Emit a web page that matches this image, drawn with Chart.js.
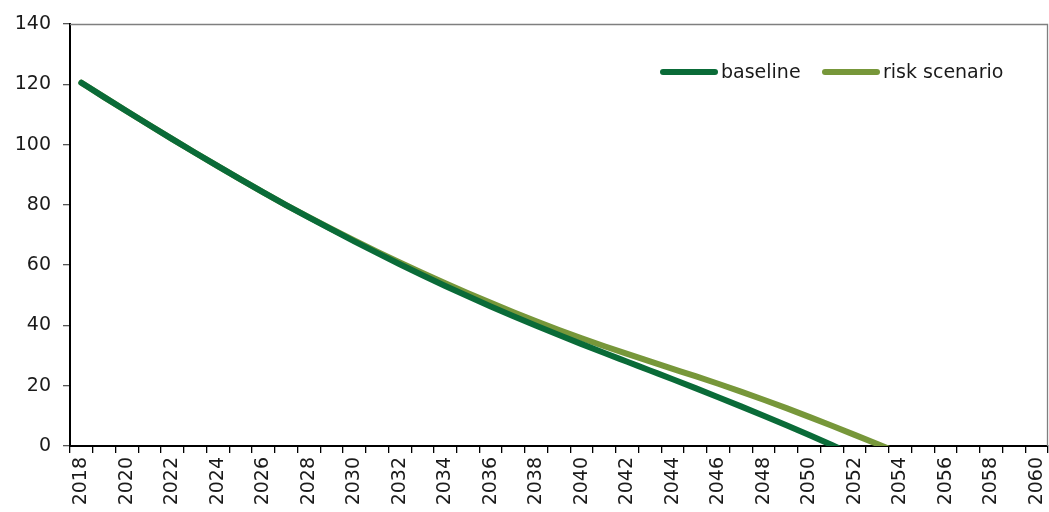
<!DOCTYPE html>
<html>
<head>
<meta charset="utf-8">
<script src="https://cdn.jsdelivr.net/npm/chart.js@4.4.1/dist/chart.umd.min.js"></script>
<style>
html,body{margin:0;padding:0;background:#fff;}
#wrap{width:1049px;height:512px;}
</style>
</head>
<body>
<div id="wrap"><canvas id="c" width="1049" height="512"></canvas></div>
<script>
const years = [];
for (let y = 2018; y <= 2060; y++) years.push(String(y));

const seriesNames = ['baseline', 'risk scenario'];
const seriesColors = ['#0a6b38', '#77973a'];

const baseline = [120.5,115.75,111.05,106.4,101.8,97.3,92.85,88.45,84.15,79.95,
  75.85,71.85,67.9,64.05,60.3,56.65,53.1,49.65,46.3,43.05,
  39.9,36.8,33.8,30.85,27.95,25.05,22.15,19.2,16.2,13.15,
  10.05,6.9,3.65,0.3,-3.15];
const riskScenario = [120.5,115.75,111.05,106.4,101.8,97.3,92.85,88.45,84.15,79.95,
  75.9,72.0,68.2,64.5,60.9,57.4,54.0,50.7,47.5,44.4,
  41.4,38.5,35.75,33.1,30.55,28.05,25.6,23.15,20.65,18.05,
  15.35,12.55,9.65,6.7,3.7,0.65,-2.45];

const yTicks = [0,20,40,60,80,100,120,140];
const FONT = '"DejaVu Sans", Verdana, sans-serif';

const frame = {
  id: 'frame',
  afterDraw(chart) {
    const {ctx, chartArea: a} = chart;
    ctx.save();
    ctx.strokeStyle = '#7f7f7f';
    ctx.lineWidth = 1.3;
    ctx.beginPath();
    ctx.moveTo(a.left, a.top + 0.5);
    ctx.lineTo(a.right - 0.5, a.top + 0.5);
    ctx.lineTo(a.right - 0.5, a.bottom);
    ctx.stroke();
    // legend
    const items = [
      {x: 663, tx: 721},
      {x: 825, tx: 883}
    ];
    const ly = 72;
    ctx.font = '19px ' + FONT;
    ctx.textBaseline = 'middle';
    ctx.textAlign = 'left';
    chart.data.datasets.forEach((ds, i) => {
      const it = items[i];
      ctx.strokeStyle = ds.borderColor;
      ctx.lineWidth = 6;
      ctx.lineCap = 'round';
      ctx.beginPath();
      ctx.moveTo(it.x, ly);
      ctx.lineTo(it.tx - 6, ly);
      ctx.stroke();
      ctx.fillStyle = '#1a1a1a';
      ctx.fillText(ds.label, it.tx, ly + 1);
    });
    ctx.restore();
  }
};

new Chart(document.getElementById('c'), {
  type: 'line',
  data: {
    labels: years,
    datasets: [
      {label: seriesNames[0], data: baseline, borderColor: seriesColors[0], backgroundColor: seriesColors[0],
       borderWidth: 6, pointRadius: 0, cubicInterpolationMode: 'monotone', borderCapStyle: 'round',
       clip: {left: 10, top: 10, right: 10, bottom: 0}},
      {label: seriesNames[1], data: riskScenario, borderColor: seriesColors[1], backgroundColor: seriesColors[1],
       borderWidth: 6, pointRadius: 0, cubicInterpolationMode: 'monotone', borderCapStyle: 'round',
       clip: {left: 10, top: 10, right: 10, bottom: 0}}
    ]
  },
  options: {
    responsive: false,
    animation: false,
    layout: {padding: {top: 24, right: 1, left: 0, bottom: 0}},
    plugins: {legend: {display: false}, tooltip: {enabled: false}},
    scales: {
      x: {
        type: 'category',
        offset: true,
        afterFit(s) { s.height = 66; s.paddingLeft = 0; s.paddingRight = 0; },
        grid: {display: true, drawOnChartArea: false, drawTicks: true, tickLength: 7, offset: true, color: '#000', lineWidth: 1.3},
        border: {display: true, color: '#000', width: 2},
        ticks: {
          autoSkip: false, maxRotation: 90, minRotation: 90, padding: 4,
          color: '#1a1a1a',
          font: {family: FONT, size: 19},
          callback(v, i) { return i % 2 === 0 ? years[i] : ''; }
        }
      },
      y: {
        min: 0, max: 140,
        afterFit(s) { s.width = 70; s.paddingTop = 0; s.paddingBottom = 0; },
        afterBuildTicks(s) { s.ticks = yTicks.map(v => ({value: v})); },
        grid: {display: true, drawOnChartArea: false, drawTicks: true, tickLength: 7, color: '#555', lineWidth: 1.3},
        border: {display: true, color: '#000', width: 2},
        ticks: {
          padding: 12, color: '#1a1a1a',
          font: {family: FONT, size: 19}
        }
      }
    }
  },
  plugins: [frame]
});
</script>
</body>
</html>
